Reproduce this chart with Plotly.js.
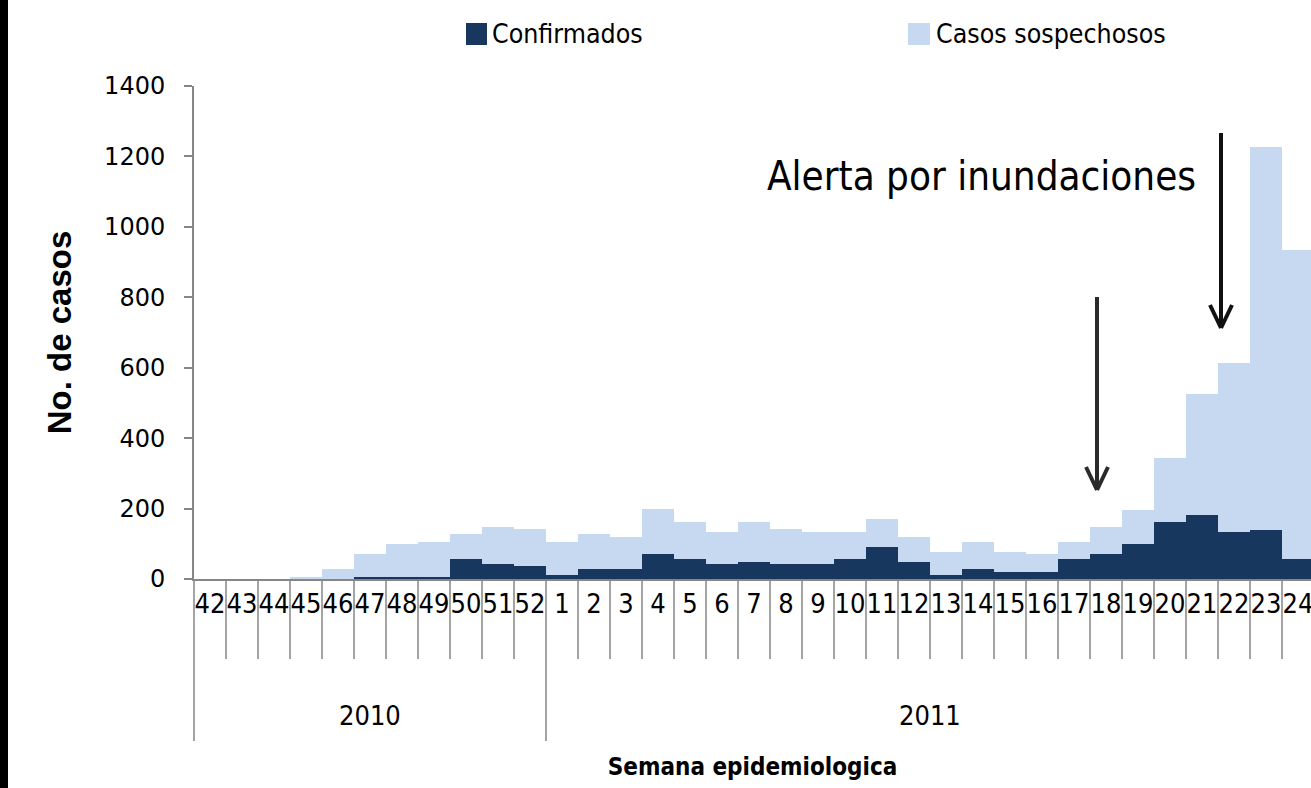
<!DOCTYPE html>
<html>
<head>
<meta charset="utf-8">
<script src="https://cdn.plot.ly/plotly-3.0.1.min.js"></script>
<style>
html,body{margin:0;padding:0;background:#fff;}
#chart{width:1311px;height:788px;}
</style>
</head>
<body>
<div id="chart"></div>
<script>
// ---- Data ----
const weeks = ['42','43','44','45','46','47','48','49','50','51','52',
  '1','2','3','4','5','6','7','8','9','10','11','12','13','14','15','16','17','18','19','20','21','22','23','24'];
const years = ['2010','2011'];
const confirmados = [0,0,0,0,0,7,7,7,56,43,36,
  12,27,27,71,56,42,49,42,42,56,90,49,12,28,20,20,56,70,99,161,181,133,140,56];
const sospechosos = [0,0,0,7,29,65,93,98,72,105,105,
  94,101,93,127,106,91,113,99,92,78,79,69,65,77,57,50,49,78,98,182,343,481,1087,879];
const seriesNames = ['Confirmados','Casos sospechosos'];
const colors = ['#17375e','#c6d9f1'];
const alertText = 'Alerta por inundaciones';

// ---- Geometry ----
const W = 1311, H = 788;
const L = 194, R = 0, T = 86, B = 209;
const plotW = W - L - R, plotH = H - T - B;
const catW = 32;
const xr = [-0.5, -0.5 + plotW / catW];
const yr = [0, 1400];
const px = p => (p - L) / plotW;          // pixel x -> paper
const py = p => (H - B - p) / plotH;      // pixel y -> paper
const cx = k => (k - xr[0]) / (xr[1] - xr[0]); // category pos -> paper

const COND = '"DejaVu Sans Condensed", "Liberation Sans Narrow", sans-serif';

// year groups derived from week numbering (reset to 1 starts a new year)
const groupStarts = [0];
weeks.forEach((w, i) => { if (i > 0 && +w < +weeks[i-1]) groupStarts.push(i); });
const groupEnds = groupStarts.slice(1).concat([weeks.length]);

const traces = [
  {type:'bar', name: seriesNames[0], x: weeks, y: confirmados,
   marker:{color: colors[0], line:{width:0}}, showlegend:false, hoverinfo:'x+y'},
  {type:'bar', name: seriesNames[1], x: weeks, y: sospechosos,
   marker:{color: colors[1], line:{width:0}}, showlegend:false, hoverinfo:'x+y'}
];

const gray = '#868686';
const shapes = [];
// black strip on the left edge
shapes.push({type:'rect', xref:'paper', yref:'paper', x0:px(0), x1:px(8), y0:py(H), y1:py(0),
  fillcolor:'#000', line:{width:0}, layer:'above'});
// week separators
for (let k = 0; k <= weeks.length; k++) {
  const isGroup = groupStarts.includes(k);
  shapes.push({type:'line', xref:'paper', yref:'paper', x0:cx(k-0.5), x1:cx(k-0.5),
    y0:0, y1: isGroup ? py(741) : py(659), line:{color:gray, width:1.5}});
}
// arrows
function arrow(xp, ytop, ytip, color) {
  shapes.push({type:'line', xref:'paper', yref:'paper', x0:px(xp), x1:px(xp), y0:py(ytop), y1:py(ytip-2), line:{color:color, width:4}});
  shapes.push({type:'line', xref:'paper', yref:'paper', x0:px(xp-11), x1:px(xp), y0:py(ytip-23), y1:py(ytip), line:{color:color, width:4}});
  shapes.push({type:'line', xref:'paper', yref:'paper', x0:px(xp+11), x1:px(xp), y0:py(ytip-23), y1:py(ytip), line:{color:color, width:4}});
}
arrow(1097, 297, 490, '#2a2a2a');
arrow(1221, 133, 328, '#111111');
// legend squares
shapes.push({type:'rect', xref:'paper', yref:'paper', x0:px(466), x1:px(487), y0:py(45), y1:py(23), fillcolor:colors[0], line:{width:0}});
shapes.push({type:'rect', xref:'paper', yref:'paper', x0:px(908), x1:px(930), y0:py(45), y1:py(23), fillcolor:colors[1], line:{width:0}});

const annotations = [];
years.forEach((yy, i) => {
  annotations.push({xref:'x', yref:'paper', x:(groupStarts[i] + groupEnds[i] - 1) / 2, y:py(715),
    text:yy, showarrow:false, xanchor:'center', yanchor:'middle',
    font:{family:COND, size:27, color:'#000'}});
});
annotations.push({xref:'paper', yref:'paper', x:px(490), y:py(34), xanchor:'left', yanchor:'middle',
  text:seriesNames[0], showarrow:false, font:{family:COND, size:26.5, color:'#000'}});
annotations.push({xref:'paper', yref:'paper', x:px(934), y:py(34), xanchor:'left', yanchor:'middle',
  text:seriesNames[1], showarrow:false, font:{family:COND, size:26.5, color:'#000'}});
annotations.push({xref:'paper', yref:'paper', x:px(1198), y:py(176), xanchor:'right', yanchor:'middle',
  text:alertText, showarrow:false, font:{family:COND, size:40, color:'#000'}});

const layout = {
  width:W, height:H,
  margin:{l:L, r:R, t:T, b:B, pad:0},
  paper_bgcolor:'#fff', plot_bgcolor:'#fff',
  barmode:'stack', bargap:0,
  showlegend:false,
  xaxis:{type:'category', range:xr, autorange:false, showgrid:false, zeroline:false,
    showline:true, linecolor:gray, linewidth:2, ticks:'', automargin:false,
    tickmode:'array', tickvals:weeks, ticktext:weeks, tickangle:0,
    tickfont:{family:COND, size:27, color:'#000'},
    title:{text:'Semana epidemiologica', standoff:140,
      font:{family:COND, size:24, color:'#000', weight:'bold'}}},
  yaxis:{range:yr, autorange:false, dtick:200, showgrid:false, zeroline:false,
    showline:true, linecolor:gray, linewidth:2, ticks:'outside', ticklen:8, tickwidth:2, tickcolor:gray,
    automargin:false, ticklabelstandoff:14,
    tickfont:{family:'"DejaVu Sans", Verdana, sans-serif', size:24, color:'#000'},
    title:{text:'No. de casos', standoff:23,
      font:{family:'"Liberation Sans", Arial, sans-serif', size:33, color:'#000', weight:'bold'}}},
  shapes:shapes,
  annotations:annotations
};

Plotly.newPlot('chart', traces, layout, {displayModeBar:false, staticPlot:true});
</script>
</body>
</html>
